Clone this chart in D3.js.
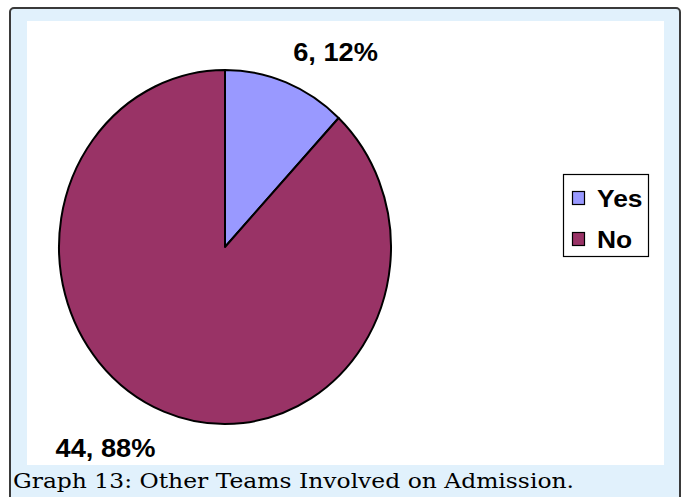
<!DOCTYPE html>
<html>
<head>
<meta charset="utf-8">
<script src="https://cdn.jsdelivr.net/npm/d3@7"></script>
<style>
  html, body { margin: 0; padding: 0; background: #ffffff; }
  svg { display: block; }
</style>
</head>
<body>
<svg id="chart" width="685" height="497"></svg>
<script>
// Chart data
const categories = ["Yes", "No"];
const counts = [6, 44];
const percents = [12, 88];
const colors = ["#9999ff", "#993366"];
const caption = "Graph 13: Other Teams Involved on Admission.";

const svg = d3.select("#chart");

// Outer frame (light blue panel with dark rule)
svg.append("rect")
  .attr("x", 10).attr("y", 8)
  .attr("width", 670).attr("height", 500)
  .attr("rx", 4)
  .attr("fill", "#e1f1fc")
  .attr("stroke", "#3a3a3a")
  .attr("stroke-width", 2);

// White plotting area
svg.append("rect")
  .attr("x", 27).attr("y", 21)
  .attr("width", 637).attr("height", 444)
  .attr("fill", "#ffffff");

// Pie (drawn as an ellipse: circular arcs stretched vertically)
const cx = 225, cy = 247, rx = 166, ry = 177;
const pie = d3.pie().sort(null).value(d => d.count);
const data = categories.map((c, i) => ({ cat: c, count: counts[i], pct: percents[i], color: colors[i] }));
const arcs = pie(data);
const arc = d3.arc().innerRadius(0).outerRadius(rx);

const pieG = svg.append("g")
  .attr("transform", `translate(${cx},${cy}) scale(1,${ry / rx})`);

pieG.selectAll("path")
  .data(arcs)
  .join("path")
  .attr("d", arc)
  .attr("fill", d => d.data.color)
  .attr("stroke", "#000")
  .attr("stroke-width", 2)
  .attr("vector-effect", "non-scaling-stroke")
  .attr("stroke-linejoin", "round");

// Slice labels placed outside the ellipse
const labelArc = d3.arc().innerRadius(rx * 1.22).outerRadius(rx * 1.22);
const labelOffsets = [[36, 15], [-45, 9]];
svg.selectAll("text.slice-label")
  .data(arcs)
  .join("text")
  .attr("class", "slice-label")
  .attr("transform", (d, i) => {
    const [x, y] = labelArc.centroid(d);
    return `translate(${cx + x + labelOffsets[i][0]},${cy + y * ry / rx + labelOffsets[i][1]}) scale(1.09,1)`;
  })
  .attr("text-anchor", "middle")
  .attr("font-family", "Liberation Sans, Arial, sans-serif")
  .attr("font-weight", "bold")
  .attr("font-size", 25)
  .attr("fill", "#000")
  .text(d => `${d.data.count}, ${d.data.pct}%`);

// Legend
const legend = svg.append("g");
legend.append("rect")
  .attr("x", 563.5).attr("y", 174.5)
  .attr("width", 85).attr("height", 82)
  .attr("fill", "#ffffff")
  .attr("stroke", "#000")
  .attr("stroke-width", 1.2);

const item = legend.selectAll("g.item")
  .data(data)
  .join("g")
  .attr("class", "item")
  .attr("transform", (d, i) => `translate(572,${191 + i * 41})`);

item.append("rect")
  .attr("x", 0.5).attr("y", 0.5)
  .attr("width", 12).attr("height", 13)
  .attr("fill", d => d.color)
  .attr("stroke", "#000")
  .attr("stroke-width", 1.2);

item.append("text")
  .attr("transform", "translate(25,16) scale(1.1,1)")
  .attr("font-family", "Liberation Sans, Arial, sans-serif")
  .attr("font-weight", "bold")
  .attr("font-size", 24)
  .attr("fill", "#000")
  .text(d => d.cat);

// Caption
svg.append("text")
  .attr("x", 13).attr("y", 488)
  .attr("font-family", "DejaVu Serif, serif")
  .attr("font-size", 21)
  .attr("fill", "#000")
  .attr("textLength", 561)
  .attr("lengthAdjust", "spacingAndGlyphs")
  .text(caption);
</script>
</body>
</html>
